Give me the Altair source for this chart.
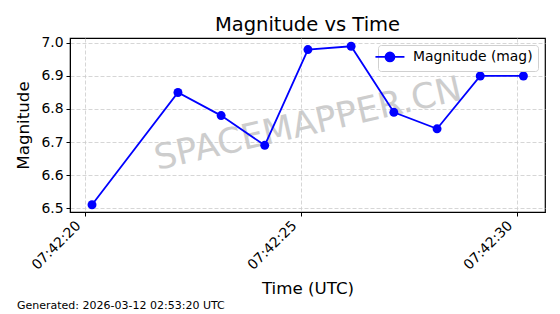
import altair as alt
import pandas as pd

# data
base_time = "2026-03-12T07:42:00Z"
seconds = [20.16, 22.15, 23.15, 24.16, 25.16, 26.16, 27.15, 28.15, 29.15, 30.15]
magnitudes = [6.51, 6.85, 6.78, 6.69, 6.98, 6.99, 6.79, 6.74, 6.90, 6.90]
tick_seconds = [20, 25, 30]
x_domain_seconds = [19.65, 30.65]
y_domain = [6.488, 7.015]
y_ticks = [6.5, 6.6, 6.7, 6.8, 6.9, 7.0]
series_name = "Magnitude (mag)"
watermark = "SPACEMAPPER.CN"
footer = "Generated: 2026-03-12 02:53:20 UTC"

base_ms = pd.Timestamp(base_time).value // 10**6
df = pd.DataFrame({
    "t": [base_ms + s * 1000 for s in seconds],
    "mag": magnitudes,
    "series": [series_name] * len(seconds),
})

W, H = 475, 174
FONT = "DejaVu Sans"

x_enc = alt.X(
    "t:T",
    title="Time (UTC)",
    scale=alt.Scale(type="utc", domain=[base_ms + s * 1000 for s in x_domain_seconds], nice=False),
    axis=alt.Axis(
        values=[base_ms + s * 1000 for s in tick_seconds],
        labelExpr="utcFormat(datum.value, '%H:%M:%S')",
        labelAngle=-45,
        labelAlign="right",
        labelBaseline="bottom",
        labelPadding=12,
        labelOffset=-2,
        titlePadding=8,
    ),
)
y_enc = alt.Y(
    "mag:Q",
    title="Magnitude",
    scale=alt.Scale(domain=y_domain, nice=False, zero=False),
    axis=alt.Axis(values=y_ticks, format=".1f", titlePadding=8, labelPadding=3),
)
color_enc = alt.Color(
    "series:N",
    scale=alt.Scale(range=["#0000ff"]),
    legend=alt.Legend(
        title=None,
        orient="top-right",
        offset=7,
        strokeColor="#d0d0d0",
        fillColor="white",
        padding=5,
        cornerRadius=3,
        labelFontSize=13.9,
        labelFont=FONT,
        labelColor="black",
        labelOffset=16,
        symbolType="M-2.9,0L2.9,0M0.9,0A0.9,0.9,0,1,1,-0.9,0A0.9,0.9,0,1,1,0.9,0Z",
        symbolSize=100,
        symbolStrokeWidth=1.8,
        symbolFillColor="#0000ff",
        symbolStrokeColor="#0000ff",
    ),
)

line = alt.Chart(df).mark_line(
    strokeWidth=1.8,
    point=alt.OverlayMarkDef(filled=True, size=80, opacity=1),
).encode(x=x_enc, y=y_enc, color=color_enc)

wm = alt.Chart(pd.DataFrame({"txt": [watermark]})).mark_text(
    angle=347, fontSize=35, font=FONT, color="#c8c8c8", opacity=0.9,
    align="center", baseline="middle"
).encode(text="txt:N", x=alt.value(238), y=alt.value(86))

foot = alt.Chart(pd.DataFrame({"txt": [footer]})).mark_text(
    fontSize=11, font=FONT, color="black", align="left", baseline="alphabetic"
).encode(text="txt:N", x=alt.value(-53), y=alt.value(271))

chart = alt.layer(wm, line, foot).properties(
    width=W, height=H,
    title=alt.Title("Magnitude vs Time", fontSize=19.5, font=FONT, fontWeight="normal", color="black", offset=0),
    autosize=alt.AutoSizeParams(type="none"),
    padding={"left": 70, "top": 38, "right": 15, "bottom": 102},
    background="white",
).configure_view(
    stroke="black", strokeWidth=1.2
).configure_axis(
    labelFont=FONT, titleFont=FONT, labelFontSize=13.9, titleFontSize=16.7,
    titleFontWeight="normal", labelColor="black", titleColor="black",
    domainColor="black", tickColor="black", tickSize=4,
    grid=True, gridColor="#cccccc", gridDash=[4, 2], gridWidth=0.8,
)

chart.save("out.html", embed_options={"renderer": "svg", "actions": False})
